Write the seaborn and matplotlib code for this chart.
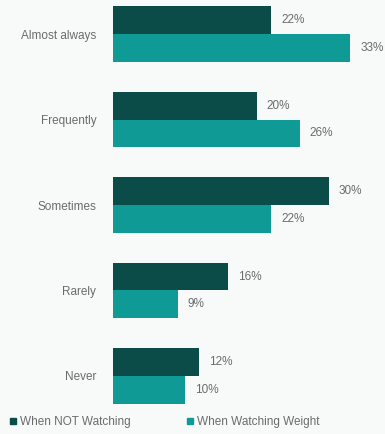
import matplotlib
matplotlib.use("Agg")
import matplotlib.pyplot as plt
import seaborn as sns
import pandas as pd
from matplotlib.lines import Line2D

categories = ["Almost always", "Frequently", "Sometimes", "Rarely", "Never"]
series_names = ["When NOT Watching", "When Watching Weight"]
not_watching = [22, 20, 30, 16, 12]
watching = [33, 26, 22, 9, 10]
colors = ["#0b4b48", "#0f9a95"]

rows = []
for c, a, b in zip(categories, not_watching, watching):
    rows.append({"cat": c, "series": series_names[0], "val": a})
    rows.append({"cat": c, "series": series_names[1], "val": b})
df = pd.DataFrame(rows)

sns.set_theme(style="white")
plt.rcParams["font.family"] = ["Liberation Sans", "DejaVu Sans"]

fig = plt.figure(figsize=(3.85, 4.34), dpi=100)
fig.patch.set_facecolor("#f8fafa")
ax = fig.add_axes([113 / 385, 24 / 434, 1 - 113 / 385, 410 / 434])
ax.set_facecolor("none")

sns.barplot(data=df, y="cat", x="val", hue="series", order=categories,
            hue_order=series_names, palette=colors, orient="h",
            width=0.65, saturation=1, ax=ax, legend=False, errorbar=None,
            linewidth=0, edgecolor="none")

for cont in ax.containers:
    ax.bar_label(cont, labels=[f"{int(v)}%" for v in cont.datavalues],
                 padding=7, fontsize=8.5, color="#6b6b6b")

ax.set_xlim(0, 37.8)
ax.set_ylim(4.4, -0.4)
ax.set_xlabel("")
ax.set_ylabel("")
ax.set_xticks([])
ax.tick_params(axis="y", length=0, pad=12, labelsize=8.5, labelcolor="#6b6b6b")
for s in ax.spines.values():
    s.set_visible(False)

handles = [Line2D([], [], marker="s", linestyle="", markersize=4,
                  markerfacecolor=col, markeredgecolor=col) for col in colors]
fig.legend(handles, series_names, loc="center left", bbox_to_anchor=(0.0, 12 / 434),
           ncol=2, frameon=False, fontsize=8.5, labelcolor="#6b6b6b",
           handletextpad=0.1, columnspacing=4.5, handlelength=1.0, borderaxespad=0.2)

fig.savefig("out.png", dpi=100, facecolor=fig.get_facecolor())
